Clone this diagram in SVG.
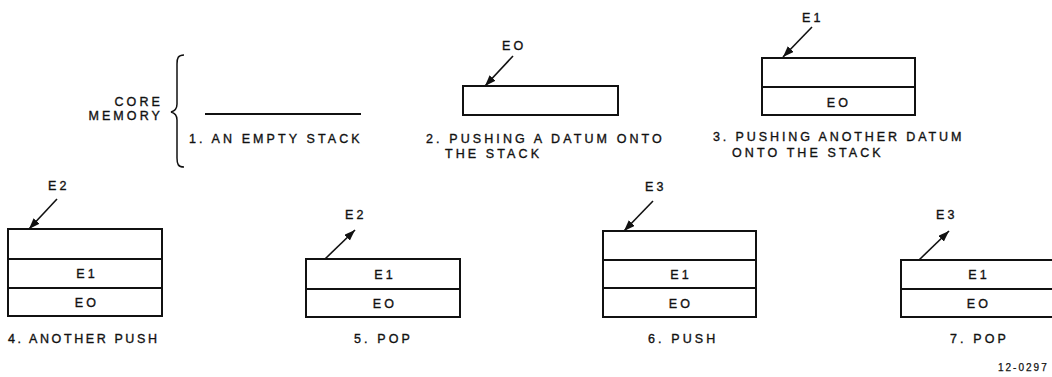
<svg xmlns="http://www.w3.org/2000/svg" width="1052" height="377" viewBox="0 0 1052 377">
<style>
text{font-family:"Liberation Sans",Arial,sans-serif;font-size:12.5px;fill:#111;stroke:#111;stroke-width:0.35;letter-spacing:3.1px}
.c{text-anchor:middle}
.r{text-anchor:end}
.box{fill:#fff;stroke:#111;stroke-width:2}
.div{stroke:#111;stroke-width:1.8}
.arr{stroke:#111;stroke-width:1.6;fill:none;marker-end:url(#ah)}
.small{font-size:10px;letter-spacing:2px;stroke-width:0.25}
</style>
<defs>
<marker id="ah" markerUnits="userSpaceOnUse" markerWidth="12" markerHeight="10" refX="11" refY="4" orient="auto">
<path d="M0,0 L11,4 L0,8 Z" fill="#111"/>
</marker>
</defs>
<rect width="1052" height="377" fill="#fff"/>

<g id="core-memory">
<text class="r" x="163" y="106">CORE</text>
<text class="r" x="163" y="120">MEMORY</text>
<path d="M184,55 C178,55 177,58 177,64 L177,104 C177,108 175,111 171,112 C175,113 177,116 177,120 L177,158 C177,164 178,167 184,167" fill="none" stroke="#111" stroke-width="1.5"/>
</g>

<g id="stack1">
<line x1="205" y1="114" x2="361" y2="114" stroke="#111" stroke-width="2.2"/>
<text x="189" y="143">1. AN EMPTY STACK</text>
</g>

<g id="stack2">
<rect class="box" x="463" y="86" width="155" height="29"/>
<text x="502" y="50">EO</text>
<text x="426" y="143">2. PUSHING A DATUM ONTO</text>
<text x="445" y="158">THE STACK</text>
</g>

<g id="stack3">
<rect class="box" x="762" y="58" width="153" height="57"/>
<line class="div" x1="762" y1="87" x2="915" y2="87"/>
<text class="c" x="839" y="107">EO</text>
<text x="802" y="22">E1</text>
<text x="713" y="141" style="letter-spacing:2.9px">3. PUSHING ANOTHER DATUM</text>
<text x="732" y="157">ONTO THE STACK</text>
</g>

<g id="stack4">
<rect class="box" x="8" y="229" width="154" height="87"/>
<line class="div" x1="8" y1="259" x2="162" y2="259"/>
<line class="div" x1="8" y1="288" x2="162" y2="288"/>
<text class="c" x="87" y="278">E1</text>
<text class="c" x="87" y="307">EO</text>
<text x="48" y="190">E2</text>
<text x="8" y="343" style="letter-spacing:2.6px">4. ANOTHER PUSH</text>
</g>

<g id="stack5">
<rect class="box" x="306" y="259" width="154" height="58"/>
<line class="div" x1="306" y1="289" x2="460" y2="289"/>
<text class="c" x="385" y="279">E1</text>
<text class="c" x="385" y="308">EO</text>
<text x="345" y="219">E2</text>
<text x="354" y="343">5. POP</text>
</g>

<g id="stack6">
<rect class="box" x="603" y="231" width="153" height="86"/>
<line class="div" x1="603" y1="260" x2="756" y2="260"/>
<line class="div" x1="603" y1="288" x2="756" y2="288"/>
<text class="c" x="681" y="279">E1</text>
<text class="c" x="681" y="308">EO</text>
<text x="645" y="191">E3</text>
<text x="648" y="343">6. PUSH</text>
</g>

<g id="stack7">
<rect class="box" x="901" y="260" width="156" height="57"/>
<line class="div" x1="901" y1="289" x2="1057" y2="289"/>
<text class="c" x="979" y="279">E1</text>
<text class="c" x="979" y="308">EO</text>
<text x="936" y="219">E3</text>
<text x="950" y="343">7. POP</text>
</g>

<g id="figure-number">
<text class="small" x="998" y="371">12-0297</text>
</g>

<g id="connectors">
<line class="arr" x1="513" y1="56" x2="485" y2="86"/>
<line class="arr" x1="812" y1="27" x2="783" y2="57"/>
<line class="arr" x1="57" y1="199" x2="29" y2="229"/>
<line class="arr" x1="325" y1="259" x2="355" y2="230"/>
<line class="arr" x1="653" y1="201" x2="624" y2="231"/>
<line class="arr" x1="919" y1="260" x2="949" y2="231"/>
</g>
</svg>
